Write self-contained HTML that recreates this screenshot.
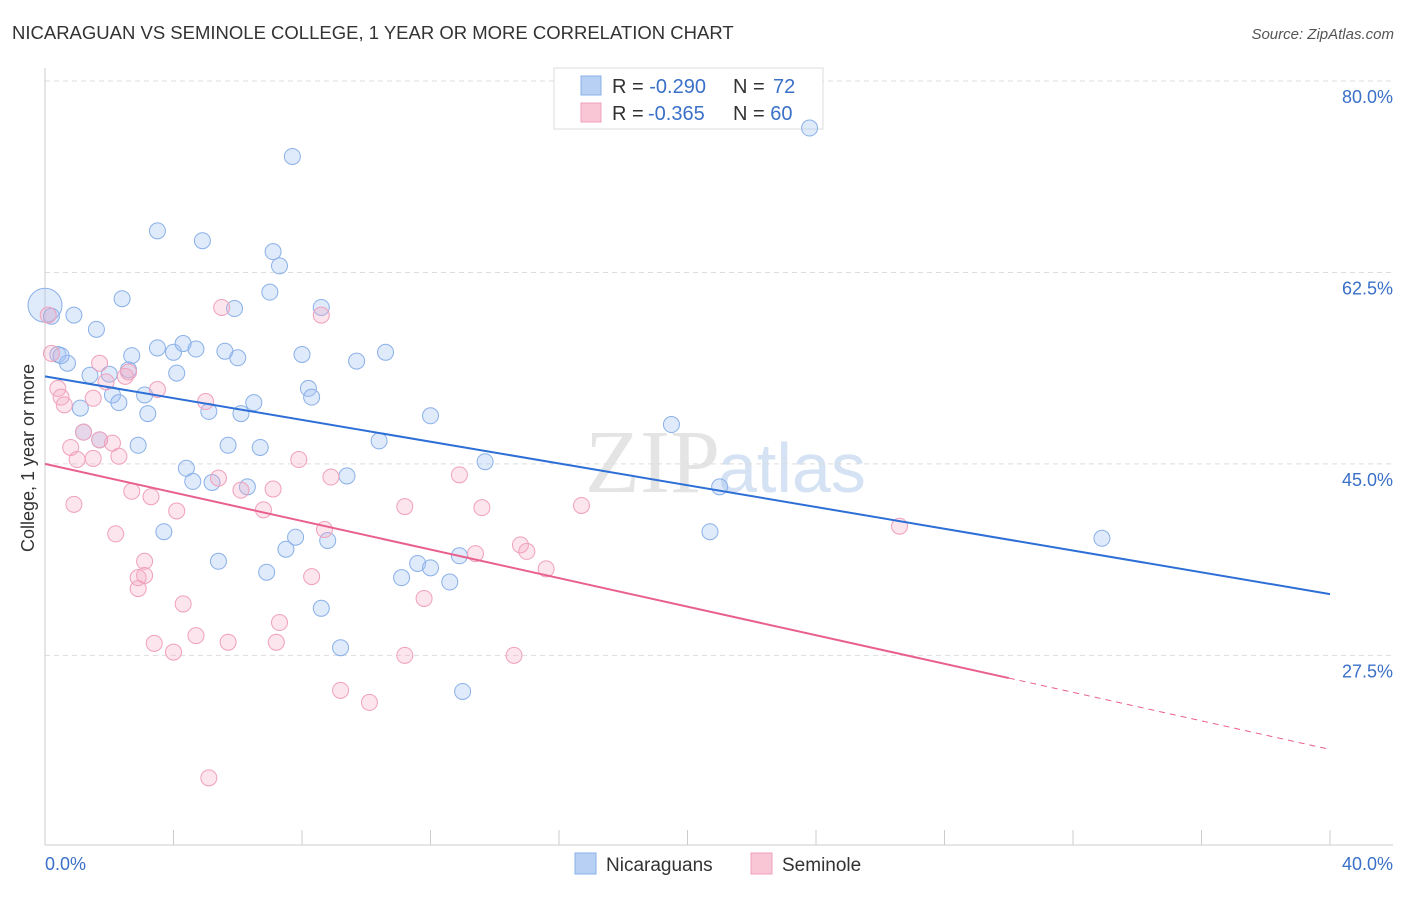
<!DOCTYPE html>
<html><head><meta charset="utf-8"><style>
body{margin:0;background:#fff;font-family:"Liberation Sans",sans-serif}
</style></head><body>
<svg id="c" width="1406" height="892" xmlns="http://www.w3.org/2000/svg">
<text x="12" y="39" font-size="18.5" fill="#333">NICARAGUAN VS SEMINOLE COLLEGE, 1 YEAR OR MORE CORRELATION CHART</text>
<text x="1394" y="39" font-size="15" fill="#555" text-anchor="end" font-style="italic">Source: ZipAtlas.com</text>
<text x="38" y="458" font-size="18" fill="#333" text-anchor="middle" transform="rotate(-90 38 458)" dy="-4">College, 1 year or more</text>
<text x="720" y="492" font-size="90" fill="#e4e4e4" text-anchor="end" font-family="Liberation Serif">ZIP</text>
<text x="718" y="492" font-size="70" fill="#d4e2f4">atlas</text>
<g id="grid"></g><g id="axes"></g>
<g>
<rect x="554" y="68" width="269" height="61" fill="#fff" stroke="#ddd"/>
<rect x="581" y="76" width="20" height="19" fill="#b7d0f4" stroke="#8ab0e8"/>
<rect x="581" y="103" width="20" height="19" fill="#f9c6d6" stroke="#f0a0bb"/>
<text x="612" y="93" font-size="20" fill="#333">R = <tspan fill="#3a70c8">-0.290</tspan><tspan x="733">N = </tspan><tspan fill="#3a70c8" x="773">72</tspan></text>
<text x="612" y="120" font-size="20" fill="#333">R = <tspan fill="#3a70c8" x="648">-0.365</tspan><tspan x="733">N = </tspan><tspan fill="#3a70c8">60</tspan></text>
</g>
<g id="pts"></g><g id="lines"></g>
<g>
<rect x="575" y="853" width="21" height="21" fill="#b7d0f4" stroke="#8ab0e8"/>
<text x="606" y="871" font-size="19" fill="#333">Nicaraguans</text>
<rect x="751" y="853" width="21" height="21" fill="#f9c6d6" stroke="#f0a0bb"/>
<text x="782" y="871" font-size="19" fill="#333">Seminole</text>
</g>
</svg>
<script>
const yTicks=[80,62.5,45,27.5];
const xTickLabels=["0.0%","40.0%"];
const blueX=[0,0.2,0.9,0.4,0.7,1.6,2.4,3.5,4.9,7.7,23.8,7.1,7.3,7.0,8.6,5.9,0.5,1.4,1.1,2.0,2.7,2.6,2.1,2.3,3.1,3.2,3.5,4.0,4.3,4.7,4.1,5.1,5.6,6.0,6.1,6.5,8.0,8.2,8.3,9.7,10.6,12.0,10.4,13.7,19.5,21.0,5.7,6.7,2.9,4.4,4.6,5.2,6.3,9.4,3.7,5.4,6.9,7.5,7.8,8.8,8.6,9.2,11.1,11.6,12.0,12.6,12.9,13.0,20.7,32.9,1.7,1.2];
const blueY=[59.5,58.5,58.6,55.0,54.2,57.3,60.1,66.3,65.4,73.1,75.7,64.4,63.1,60.7,59.3,59.2,54.9,53.1,50.1,53.2,54.9,53.6,51.3,50.6,51.3,49.6,55.6,55.2,56.0,55.5,53.3,49.8,55.3,54.7,49.6,50.6,55.0,51.9,51.1,54.4,55.2,49.4,47.1,45.2,48.6,42.9,46.7,46.5,46.7,44.6,43.4,43.3,42.9,43.9,38.8,36.1,35.1,37.2,38.3,38.0,31.8,28.2,34.6,35.9,35.5,34.2,36.6,24.2,38.8,38.2,47.2,47.9];
const pinkX=[0.1,0.2,0.4,0.5,0.6,0.8,0.9,1.0,1.2,1.5,1.5,1.7,1.9,2.1,2.3,2.2,2.5,2.7,2.9,3.1,3.1,2.9,3.3,3.4,3.5,4.0,4.1,4.3,4.7,5.0,5.1,5.4,5.5,5.7,6.1,6.8,7.1,7.3,7.2,7.9,8.3,8.6,8.7,8.9,9.2,10.1,11.2,11.2,11.8,12.9,13.4,13.6,14.6,14.8,15.0,15.6,16.7,26.6,1.7,2.6];
const pinkY=[58.6,55.1,51.9,51.1,50.4,46.5,41.3,45.4,47.9,45.5,51.0,54.2,52.5,46.9,45.7,38.6,53.0,42.5,34.6,36.1,34.8,33.6,42.0,28.6,51.8,27.8,40.7,32.2,29.3,50.7,16.3,43.7,59.3,28.7,42.6,40.8,42.7,30.5,28.7,45.4,34.7,58.6,39.0,43.8,24.3,23.2,27.5,41.1,32.7,44.0,36.8,41.0,27.5,37.6,37.0,35.4,41.2,39.3,47.2,53.4];
const blueTrend=[53.0,33.1];
const pinkTrend=[45.0,18.9];
const pinkSolidEnd=30;
const NS="http://www.w3.org/2000/svg";
const X=v=>45+v*32.125, Y=v=>81+(80-v)*10.94;
function mk(t,a,p){const e=document.createElementNS(NS,t);for(const k in a)e.setAttribute(k,a[k]);document.getElementById(p).appendChild(e);return e;}
yTicks.forEach(t=>{
 const l=mk('line',{x1:45,x2:1393,y1:Y(t),y2:Y(t),stroke:'#ddd','stroke-dasharray':'5,4'},'grid');
 
 
 const tx=mk('text',{x:1393,y:Y(t)+22,'font-size':18,fill:'#3a70c8','text-anchor':'end'},'grid');
 tx.textContent=t.toFixed(1)+'%';
 
 
});
mk('line',{x1:45,x2:45,y1:68,y2:845,stroke:'#ccc'},'axes');
mk('line',{x1:45,x2:1393,y1:845,y2:845,stroke:'#ccc'},'axes');
for(let i=0;i<=10;i++){const t=mk('line',{x1:X(i*4),x2:X(i*4),y1:830,y2:845,stroke:'#ccc'},'axes');
 
 }
[[0,'start',45],[40,'end',1393]].forEach((d,i)=>{const t=mk('text',{x:d[2],y:870,'font-size':18,fill:'#3a70c8','text-anchor':d[1]},'axes');t.textContent=xTickLabels[i];
 
 });
blueX.forEach((x,i)=>{const c=mk('circle',{cx:X(x),cy:Y(blueY[i]),r:i==0?17:8,fill:'rgba(164,194,244,0.35)',stroke:'#8ab0e8','stroke-width':1},'pts');
 
 });
pinkX.forEach((x,i)=>{const c=mk('circle',{cx:X(x),cy:Y(pinkY[i]),r:8,fill:'rgba(244,170,195,0.3)',stroke:'#f0a0bb','stroke-width':1},'pts');
 
 });
const bl=mk('line',{x1:X(0),y1:Y(blueTrend[0]),x2:X(40),y2:Y(blueTrend[1]),stroke:'#2d6fd6','stroke-width':2},'lines');


const py=x=>pinkTrend[0]+(pinkTrend[1]-pinkTrend[0])*x/40;
const pl=mk('line',{x1:X(0),y1:Y(pinkTrend[0]),x2:X(pinkSolidEnd),y2:Y(py(pinkSolidEnd)),stroke:'#e8608c','stroke-width':2},'lines');


const pd=mk('line',{x1:X(pinkSolidEnd),y1:Y(py(pinkSolidEnd)),x2:X(40),y2:Y(pinkTrend[1]),stroke:'#e8608c','stroke-width':1,'stroke-dasharray':'6,5'},'lines');


</script>
</body></html>
